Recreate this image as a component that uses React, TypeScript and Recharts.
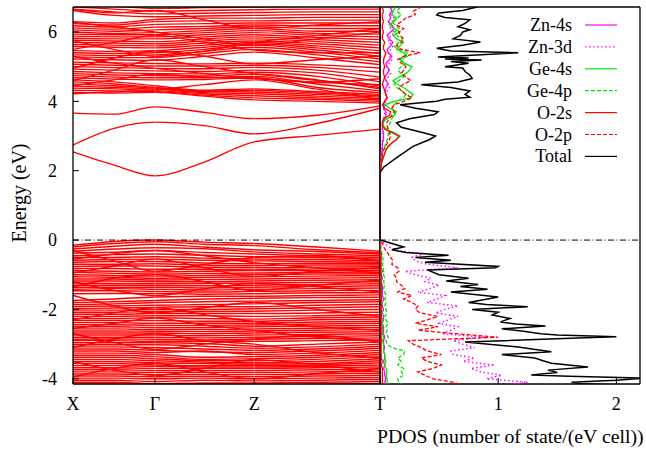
import React from "react";
import { LineChart, Line, XAxis, YAxis, ReferenceLine, ScatterChart, Scatter } from "recharts";

const FONT = '"Liberation Serif", "Times New Roman", serif';

// k-path X - Γ - Z - T, one midpoint on every segment
const kPath = [0, 0.134, 0.267, 0.428, 0.59, 0.795, 1];
const kTicks = [0, 0.267, 0.59, 1];
const kLabels = ["X", "Γ", "Z", "T"];

const energyTicks = [-4, -2, 0, 2, 4, 6];
const energyDomain = [-4.15, 6.72];
const pdosTicks = [1, 2];
const pdosDomain = [0, 2.2];

// band energies (eV) at each kPath point
const valenceBands = [
  [-0.15, -0.04, 0.0, -0.06, -0.1, -0.2, -0.32],
  [-0.2, -0.1, -0.05, -0.12, -0.16, -0.28, -0.36],
  [-0.26, -0.18, -0.12, -0.2, -0.28, -0.33, -0.4],
  [-0.32, -0.26, -0.22, -0.25, -0.34, -0.4, -0.45],
  [-0.38, -0.35, -0.3, -0.36, -0.4, -0.46, -0.5],
  [-0.45, -0.42, -0.4, -0.44, -0.48, -0.5, -0.55],
  [-0.5, -0.5, -0.48, -0.52, -0.55, -0.56, -0.6],
  [-0.58, -0.56, -0.55, -0.58, -0.6, -0.62, -0.64],
  [-0.64, -0.62, -0.62, -0.66, -0.68, -0.67, -0.68],
  [-0.7, -0.7, -0.68, -0.72, -0.74, -0.72, -0.72],
  [-0.76, -0.75, -0.75, -0.78, -0.8, -0.78, -0.77],
  [-0.82, -0.82, -0.84, -0.84, -0.86, -0.83, -0.82],
  [-0.88, -0.9, -0.92, -0.9, -0.88, -0.88, -0.87],
  [-0.93, -0.96, -0.98, -0.96, -0.95, -0.93, -0.92],
  [-1.0, -1.02, -1.04, -1.02, -1.0, -0.98, -0.97],
  [-1.06, -1.07, -1.1, -1.08, -1.06, -1.04, -1.02],
  [-1.12, -1.12, -1.15, -1.14, -1.12, -1.1, -1.08],
  [-1.18, -1.18, -1.2, -1.2, -1.18, -1.16, -1.14],
  [-1.24, -1.25, -1.26, -1.25, -1.24, -1.22, -1.2],
  [-1.3, -1.3, -1.31, -1.32, -1.3, -1.28, -1.26],
  [-1.36, -1.36, -1.36, -1.38, -1.36, -1.34, -1.32],
  [-1.42, -1.4, -1.42, -1.44, -1.42, -1.4, -1.38],
  [-1.46, -1.46, -1.48, -1.5, -1.48, -1.46, -1.45],
  [-1.55, -1.54, -1.54, -1.56, -1.55, -1.52, -1.52],
  [-1.74, -1.7, -1.64, -1.62, -1.62, -1.6, -1.58],
  [-1.8, -1.78, -1.74, -1.7, -1.68, -1.66, -1.65],
  [-1.86, -1.84, -1.8, -1.78, -1.76, -1.74, -1.72],
  [-1.92, -1.9, -1.88, -1.86, -1.84, -1.8, -1.78],
  [-1.98, -1.96, -1.94, -1.92, -1.92, -1.88, -1.85],
  [-2.02, -2.02, -2.0, -2.0, -1.98, -1.95, -1.92],
  [-2.08, -2.08, -2.06, -2.06, -2.05, -2.02, -2.0],
  [-2.14, -2.14, -2.12, -2.12, -2.12, -2.1, -2.08],
  [-2.2, -2.2, -2.18, -2.18, -2.2, -2.18, -2.15],
  [-2.26, -2.26, -2.24, -2.26, -2.28, -2.24, -2.22],
  [-2.32, -2.32, -2.32, -2.34, -2.34, -2.3, -2.28],
  [-2.38, -2.38, -2.4, -2.4, -2.4, -2.36, -2.34],
  [-2.44, -2.44, -2.46, -2.46, -2.45, -2.42, -2.4],
  [-2.5, -2.5, -2.52, -2.52, -2.5, -2.48, -2.46],
  [-2.56, -2.56, -2.58, -2.58, -2.56, -2.54, -2.52],
  [-2.62, -2.62, -2.63, -2.64, -2.62, -2.6, -2.58],
  [-2.68, -2.68, -2.68, -2.7, -2.68, -2.66, -2.64],
  [-2.74, -2.74, -2.74, -2.76, -2.74, -2.72, -2.7],
  [-2.8, -2.8, -2.8, -2.82, -2.8, -2.78, -2.76],
  [-2.86, -2.85, -2.86, -2.88, -2.86, -2.84, -2.82],
  [-2.9, -2.9, -2.92, -2.92, -2.92, -2.9, -2.88],
  [-2.96, -2.96, -2.96, -2.98, -3.06, -3.0, -2.94],
  [-3.02, -3.02, -3.02, -3.06, -3.12, -3.08, -3.0],
  [-3.08, -3.08, -3.1, -3.14, -3.18, -3.14, -3.06],
  [-3.14, -3.14, -3.18, -3.22, -3.24, -3.2, -3.12],
  [-3.2, -3.2, -3.24, -3.2, -3.3, -3.26, -3.18],
  [-3.26, -3.26, -3.3, -3.38, -3.36, -3.32, -3.24],
  [-3.32, -3.32, -3.36, -3.44, -3.42, -3.38, -3.3],
  [-3.38, -3.38, -3.42, -3.48, -3.48, -3.44, -3.36],
  [-3.44, -3.44, -3.48, -3.52, -3.54, -3.5, -3.42],
  [-3.5, -3.5, -3.54, -3.56, -3.58, -3.56, -3.48],
  [-3.56, -3.56, -3.6, -3.62, -3.62, -3.6, -3.54],
  [-3.62, -3.62, -3.64, -3.66, -3.66, -3.64, -3.6],
  [-3.68, -3.68, -3.7, -3.7, -3.7, -3.68, -3.66],
  [-3.74, -3.74, -3.76, -3.76, -3.76, -3.74, -3.72],
  [-3.8, -3.8, -3.82, -3.82, -3.82, -3.8, -3.78],
  [-3.86, -3.86, -3.88, -3.88, -3.88, -3.86, -3.84],
  [-3.92, -3.92, -3.94, -3.93, -3.94, -3.92, -3.9],
  [-3.98, -3.98, -4.0, -3.98, -4.0, -3.98, -3.96],
  [-4.04, -4.04, -4.08, -4.04, -4.06, -4.04, -4.02],
  [-4.1, -4.1, -4.14, -4.12, -4.12, -4.1, -4.08],
  [-4.16, -4.16, -4.2, -4.18, -4.18, -4.16, -4.14],
  // strongly dispersive bands crossing the manifold
  [-0.3, -0.6, -0.9, -0.7, -0.5, -0.45, -0.6],
  [-0.95, -0.75, -0.55, -0.8, -1.05, -0.9, -0.8],
  [-1.2, -1.45, -1.6, -1.4, -1.25, -1.35, -1.5],
  [-1.6, -1.9, -2.1, -1.95, -1.8, -2.0, -2.2],
  [-2.3, -2.1, -1.95, -2.15, -2.35, -2.5, -2.6],
  [-2.7, -2.95, -3.15, -3.0, -2.85, -2.75, -2.95],
  [-3.1, -2.85, -2.7, -2.9, -3.0, -3.25, -3.4],
  [-3.5, -3.75, -3.9, -3.7, -3.45, -3.6, -3.8],
  [-3.95, -3.7, -3.55, -3.8, -4.0, -3.85, -3.7],
  [-0.55, -0.4, -0.3, -0.45, -0.65, -0.8, -0.95],
  [-1.35, -1.1, -1.0, -1.2, -1.45, -1.3, -1.15],
  [-2.55, -2.4, -2.25, -2.45, -2.6, -2.8, -2.9],
];

const conductionBands = [
  [2.54, 2.16, 1.85, 2.25, 2.83, 3.02, 3.2],
  [2.74, 3.22, 3.4, 3.3, 3.06, 3.36, 3.8],
  [3.66, 3.63, 3.84, 3.68, 3.5, 3.6, 3.87],
  [4.22, 4.28, 4.33, 4.48, 4.62, 4.35, 4.05],
  [4.26, 4.24, 4.26, 4.15, 4.04, 4.0, 3.95],
  [4.32, 4.3, 4.28, 4.18, 4.1, 4.06, 4.0],
  [4.38, 4.36, 4.31, 4.22, 4.16, 4.1, 4.04],
  [4.44, 4.4, 4.35, 4.25, 4.22, 4.15, 4.08],
  [4.5, 4.45, 4.38, 4.28, 4.27, 4.2, 4.12],
  [4.56, 4.5, 4.4, 4.3, 4.32, 4.24, 4.16],
  [4.62, 4.56, 4.45, 4.32, 4.36, 4.28, 4.2],
  [4.68, 4.64, 4.62, 4.63, 4.68, 4.4, 4.25],
  [4.74, 4.7, 4.68, 4.68, 4.72, 4.5, 4.3],
  [4.8, 4.76, 4.74, 4.73, 4.78, 4.62, 4.36],
  [4.86, 4.82, 4.8, 4.79, 4.84, 4.72, 4.44],
  [4.93, 4.9, 4.88, 4.86, 4.9, 4.82, 4.56],
  [5.0, 4.97, 4.95, 4.94, 4.98, 4.9, 4.7],
  [5.07, 5.04, 5.02, 5.02, 5.04, 4.98, 4.84],
  [5.13, 5.11, 5.09, 5.08, 5.1, 5.05, 4.96],
  [5.22, 5.2, 5.18, 5.3, 5.42, 5.25, 5.06],
  [5.28, 5.26, 5.26, 5.38, 5.5, 5.34, 5.14],
  [5.34, 5.32, 5.34, 5.44, 5.56, 5.42, 5.22],
  [5.4, 5.38, 5.4, 5.5, 5.62, 5.48, 5.3],
  [5.46, 5.44, 5.46, 5.56, 5.66, 5.54, 5.38],
  [5.58, 5.56, 5.54, 5.62, 5.7, 5.6, 5.46],
  [5.64, 5.62, 5.6, 5.68, 5.74, 5.66, 5.54],
  [5.7, 5.68, 5.66, 5.74, 5.8, 5.72, 5.62],
  [5.76, 5.74, 5.72, 5.8, 5.86, 5.78, 5.7],
  [5.82, 5.8, 5.8, 5.86, 5.92, 5.84, 5.78],
  [5.88, 5.86, 5.86, 5.92, 5.98, 5.9, 5.86],
  [5.94, 5.92, 5.92, 5.98, 6.04, 5.96, 5.94],
  [6.0, 5.96, 5.98, 6.04, 6.1, 6.02, 6.02],
  [6.06, 6.02, 6.06, 6.1, 6.15, 6.1, 6.1],
  [6.12, 6.08, 6.14, 6.16, 6.2, 6.18, 6.18],
  [6.18, 6.14, 6.22, 6.24, 6.26, 6.26, 6.26],
  [6.24, 6.2, 6.3, 6.32, 6.32, 6.34, 6.34],
  [6.3, 6.26, 6.36, 6.4, 6.4, 6.42, 6.42],
  [6.62, 6.48, 6.44, 6.46, 6.48, 6.5, 6.5],
  [6.66, 6.58, 6.52, 6.54, 6.56, 6.58, 6.58],
  [6.72, 6.66, 6.6, 6.62, 6.64, 6.66, 6.66],
  [6.8, 6.74, 6.68, 6.7, 6.72, 6.74, 6.74],
  [4.6, 4.9, 5.2, 5.0, 4.8, 4.6, 4.4],
  [5.3, 5.1, 4.95, 4.8, 4.66, 4.55, 4.48],
  [5.5, 5.7, 5.9, 5.7, 5.48, 5.4, 5.4],
  [6.28, 6.15, 6.0, 5.8, 5.62, 5.8, 6.0],
  [4.95, 5.25, 5.45, 5.3, 5.08, 5.2, 5.3],
  [6.66, 6.55, 6.62, 6.35, 6.1, 6.2, 6.3],
  [5.75, 5.5, 5.3, 5.45, 5.7, 5.9, 6.1],
  [4.45, 4.62, 4.78, 4.7, 4.66, 4.55, 4.65],
];

// PDOS energy grids (eV): valence -4.2..0.0, conduction 1.9..6.7
const vbEnergy = [
  -4.2, -4.1, -4.0,
  -3.9, -3.8, -3.7, -3.6, -3.5, -3.4, -3.3, -3.2, -3.1, -3.0,
  -2.9, -2.8, -2.7, -2.6, -2.5, -2.4, -2.3, -2.2, -2.1, -2.0,
  -1.9, -1.8, -1.7, -1.6, -1.5, -1.4, -1.3, -1.2, -1.1, -1.0,
  -0.9, -0.8, -0.7, -0.6, -0.5, -0.4, -0.3, -0.2, -0.1, 0.0,
];
const cbEnergy = [
  1.9,
  2.0, 2.1, 2.2, 2.3, 2.4, 2.5, 2.6, 2.7, 2.8, 2.9,
  3.0, 3.1, 3.2, 3.3, 3.4, 3.5, 3.6, 3.7, 3.8, 3.9,
  4.0, 4.1, 4.2, 4.3, 4.4, 4.5, 4.6, 4.7, 4.8, 4.9,
  5.0, 5.1, 5.2, 5.3, 5.4, 5.5, 5.6, 5.7, 5.8, 5.9,
  6.0, 6.1, 6.2, 6.3, 6.4, 6.5, 6.6, 6.7,
];

const zn4sVb = [
  0.05, 0.04, 0.05,
  0.04, 0.04, 0.03, 0.04, 0.03, 0.04, 0.04, 0.03, 0.04, 0.03,
  0.03, 0.04, 0.03, 0.03, 0.03, 0.02, 0.03, 0.03, 0.02, 0.03,
  0.02, 0.02, 0.03, 0.02, 0.02, 0.02, 0.02, 0.01, 0.02, 0.01,
  0.02, 0.01, 0.01, 0.01, 0.01, 0.01, 0.005, 0.0, 0.0, 0.0,
];
const zn4sCb = [
  0.0,
  0.0, 0.0, 0.01, 0.01, 0.01, 0.01, 0.02, 0.02, 0.02, 0.03,
  0.03, 0.03, 0.02, 0.02, 0.03, 0.04, 0.05, 0.05, 0.03, 0.03,
  0.04, 0.06, 0.05, 0.04, 0.05, 0.07, 0.05, 0.04, 0.06, 0.08,
  0.06, 0.05, 0.08, 0.1, 0.07, 0.06, 0.09, 0.11, 0.08, 0.06,
  0.09, 0.12, 0.1, 0.07, 0.09, 0.08, 0.1, 0.09,
];

const zn3dVb = [
  1.0, 1.25, 0.9,
  1.03, 0.85, 0.77, 0.97, 0.7, 0.8, 0.62, 0.6, 0.8, 0.7,
  0.62, 0.89, 0.52, 0.6, 0.66, 0.5, 0.58, 0.66, 0.47, 0.55,
  0.66, 0.4, 0.48, 0.55, 0.32, 0.42, 0.5, 0.38, 0.43, 0.3,
  0.21, 0.66, 0.4, 0.3, 0.27, 0.36, 0.15, 0.08, 0.04, 0.0,
];
const zn3dCb = [
  0.0,
  0.0, 0.0, 0.0, 0.01, 0.01, 0.01, 0.01, 0.02, 0.02, 0.02,
  0.03, 0.02, 0.02, 0.02, 0.03, 0.03, 0.04, 0.04, 0.03, 0.04,
  0.05, 0.06, 0.05, 0.06, 0.08, 0.06, 0.05, 0.07, 0.09, 0.07,
  0.06, 0.08, 0.1, 0.08, 0.07, 0.09, 0.11, 0.08, 0.07, 0.1,
  0.12, 0.09, 0.08, 0.1, 0.12, 0.09, 0.11, 0.1,
];

const ge4sVb = [
  0.07, 0.06, 0.06,
  0.05, 0.06, 0.05, 0.04, 0.05, 0.04, 0.04, 0.03, 0.03, 0.03,
  0.02, 0.03, 0.02, 0.02, 0.02, 0.02, 0.02, 0.01, 0.02, 0.01,
  0.01, 0.02, 0.01, 0.01, 0.01, 0.01, 0.01, 0.01, 0.01, 0.01,
  0.01, 0.01, 0.01, 0.005, 0.005, 0.005, 0.0, 0.0, 0.0, 0.0,
];
const ge4sCb = [
  0.0,
  0.0, 0.01, 0.01, 0.02, 0.03, 0.04, 0.05, 0.07, 0.1, 0.14,
  0.17, 0.12, 0.05, 0.03, 0.02, 0.06, 0.12, 0.14, 0.08, 0.04,
  0.12, 0.26, 0.28, 0.24, 0.2, 0.14, 0.11, 0.16, 0.22, 0.25,
  0.27, 0.2, 0.17, 0.23, 0.2, 0.14, 0.17, 0.2, 0.14, 0.11,
  0.17, 0.12, 0.08, 0.12, 0.14, 0.1, 0.11, 0.13,
];

const ge4pVb = [
  0.2, 0.16, 0.15,
  0.2, 0.18, 0.2, 0.15, 0.18, 0.15, 0.2, 0.21, 0.1, 0.06,
  0.05, 0.07, 0.05, 0.06, 0.05, 0.07, 0.05, 0.04, 0.06, 0.05,
  0.04, 0.05, 0.04, 0.05, 0.04, 0.03, 0.04, 0.03, 0.04, 0.03,
  0.03, 0.03, 0.02, 0.03, 0.02, 0.02, 0.01, 0.01, 0.005, 0.0,
];
const ge4pCb = [
  0.0,
  0.0, 0.0, 0.01, 0.01, 0.02, 0.02, 0.03, 0.04, 0.05, 0.06,
  0.07, 0.07, 0.06, 0.07, 0.09, 0.1, 0.12, 0.13, 0.1, 0.12,
  0.15, 0.2, 0.22, 0.19, 0.14, 0.12, 0.16, 0.2, 0.18, 0.15,
  0.18, 0.22, 0.16, 0.2, 0.24, 0.15, 0.12, 0.16, 0.19, 0.14,
  0.12, 0.16, 0.13, 0.1, 0.15, 0.18, 0.14, 0.17,
];

const o2sVb = [
  0.02, 0.02, 0.02,
  0.02, 0.02, 0.02, 0.01, 0.02, 0.01, 0.01, 0.01, 0.01, 0.01,
  0.01, 0.01, 0.01, 0.01, 0.01, 0.01, 0.01, 0.01, 0.01, 0.01,
  0.01, 0.01, 0.01, 0.01, 0.01, 0.01, 0.01, 0.01, 0.01, 0.01,
  0.005, 0.005, 0.005, 0.005, 0.005, 0.005, 0.0, 0.0, 0.0, 0.0,
];
const o2sCb = [
  0.0,
  0.0, 0.01, 0.01, 0.02, 0.03, 0.04, 0.05, 0.07, 0.1, 0.14,
  0.16, 0.1, 0.04, 0.02, 0.02, 0.03, 0.08, 0.09, 0.04, 0.02,
  0.04, 0.06, 0.05, 0.04, 0.03, 0.02, 0.03, 0.04, 0.03, 0.03,
  0.04, 0.03, 0.03, 0.04, 0.05, 0.03, 0.03, 0.04, 0.02, 0.02,
  0.03, 0.02, 0.02, 0.03, 0.02, 0.02, 0.03, 0.02,
];

const o2pVb = [
  0.72, 0.62, 0.45,
  0.38, 0.32, 0.45, 0.52, 0.4, 0.35, 0.52, 0.4, 0.35, 0.28,
  0.24, 1.0, 0.64, 0.32, 0.49, 0.3, 0.4, 0.49, 0.34, 0.3,
  0.32, 0.27, 0.2, 0.27, 0.15, 0.21, 0.18, 0.14, 0.14, 0.12,
  0.16, 0.15, 0.1, 0.11, 0.09, 0.07, 0.05, 0.03, 0.02, 0.0,
];
const o2pCb = [
  0.0,
  0.0, 0.0, 0.01, 0.01, 0.02, 0.02, 0.03, 0.05, 0.06, 0.08,
  0.09, 0.08, 0.07, 0.06, 0.06, 0.08, 0.1, 0.12, 0.1, 0.12,
  0.2, 0.27, 0.22, 0.18, 0.16, 0.2, 0.26, 0.22, 0.18, 0.2,
  0.22, 0.18, 0.15, 0.2, 0.34, 0.18, 0.14, 0.18, 0.2, 0.17,
  0.16, 0.2, 0.14, 0.18, 0.22, 0.3, 0.28, 0.34,
];

// total DOS, sampled at its own turning points
const totalEnergy = [
  -4.25, -4.18, -4.14, -4.1, -4.04, -3.98, -3.93, -3.89, -3.82, -3.75,
  -3.66, -3.55, -3.48, -3.4, -3.3, -3.22, -3.15, -3.08, -2.94, -2.84,
  -2.79, -2.74, -2.7, -2.62, -2.56, -2.48, -2.42, -2.36, -2.26, -2.16,
  -2.08, -2.0, -1.92, -1.86, -1.8, -1.64, -1.5, -1.42, -1.34, -1.28,
  -1.18, -1.1, -1.0, -0.86, -0.8, -0.76, -0.64, -0.58, -0.5, -0.44,
  -0.36, -0.28, -0.2, -0.08, 0.0, 0.1,
  1.9, 1.95, 2.1, 2.4, 2.7, 2.9, 3.0, 3.1, 3.25, 3.38,
  3.5, 3.62, 3.7, 3.8, 3.9, 4.0, 4.06, 4.12, 4.2, 4.3,
  4.4, 4.48, 4.56, 4.66, 4.76, 4.86, 4.96, 5.0, 5.05, 5.1,
  5.15, 5.19, 5.22, 5.25, 5.28, 5.4, 5.45, 5.53, 5.62, 5.71,
  5.8, 5.9, 6.0, 6.06, 6.15, 6.25, 6.35, 6.42, 6.49, 6.55,
  6.62, 6.72, 6.8,
];
const totalDos = [
  1.9, 2.1, 1.7, 1.62, 2.0, 2.25, 1.6, 1.28, 1.5, 1.42,
  1.76, 1.45, 1.38, 1.31, 1.03, 1.45, 1.3, 1.17, 0.72, 1.55,
  2.0, 1.5, 1.36, 1.2, 1.03, 1.4, 1.15, 1.02, 1.1, 0.95,
  1.0, 0.78, 1.25, 0.9, 0.75, 1.0, 0.6, 0.91, 0.68, 0.83,
  0.56, 0.75, 0.5, 0.4, 0.98, 1.0, 0.38, 0.6, 0.3, 0.58,
  0.22, 0.1, 0.2, 0.08, 0.0, 0.0,
  0.0, 0.0, 0.03, 0.15, 0.28, 0.42, 0.47, 0.36, 0.18, 0.14,
  0.25, 0.46, 0.49, 0.3, 0.17, 0.48, 0.55, 0.76, 0.72, 0.76,
  0.6, 0.35, 0.66, 0.78, 0.76, 0.72, 0.7, 0.55, 0.65, 0.75,
  0.6, 0.86, 0.55, 0.75, 0.49, 1.17, 0.6, 0.48, 0.7, 0.85,
  0.62, 0.68, 0.7, 0.76, 0.66, 0.72, 0.76, 0.55, 0.48, 0.5,
  0.7, 0.82, 0.85,
];

const bandData = kPath.map((k, i) => {
  const row: Record<string, number> = { k };
  valenceBands.forEach((b, j) => (row[`v${j}`] = b[i]));
  conductionBands.forEach((b, j) => (row[`c${j}`] = b[i]));
  return row;
});

const toCurve = (vb: number[], cb: number[]) => [
  ...vbEnergy.map((e, i) => ({ x: vb[i], y: e })),
  ...cbEnergy.map((e, i) => ({ x: cb[i], y: e })),
].filter((p) => p.x !== undefined);

const pdosSeries = [
  { name: "Zn-4s", color: "#ff00ff", dash: undefined, width: 1.3, points: toCurve(zn4sVb, zn4sCb) },
  { name: "Zn-3d", color: "#ff00ff", dash: "1.5 2.5", width: 1.4, points: toCurve(zn3dVb, zn3dCb) },
  { name: "Ge-4s", color: "#00e600", dash: undefined, width: 1.3, points: toCurve(ge4sVb, ge4sCb) },
  { name: "Ge-4p", color: "#00e600", dash: "4 2", width: 1.3, points: toCurve(ge4pVb, ge4pCb) },
  { name: "O-2s", color: "#ff0000", dash: undefined, width: 1.3, points: toCurve(o2sVb, o2sCb) },
  { name: "O-2p", color: "#ff0000", dash: "4 2", width: 1.3, points: toCurve(o2pVb, o2pCb) },
  {
    name: "Total",
    color: "#000000",
    dash: undefined,
    width: 1.5,
    points: totalEnergy.map((e, i) => ({ x: totalDos[i], y: e })),
  },
];

const tickStyle = { fill: "#000", fontSize: 18, fontFamily: FONT };
const axisLineStyle = { stroke: "#000", strokeWidth: 1.3 };
const zeroLine = { stroke: "#000", strokeWidth: 1, strokeDasharray: "6 2.5 1 2.5" };
const noDot = () => <g />;

export default function App() {
  return (
    <div style={{ position: "absolute", left: 0, top: 0, width: 646, height: 450, background: "#fff" }}>
      <div style={{ position: "absolute", left: 0, top: 0 }}>
        <LineChart
          width={646}
          height={450}
          data={bandData}
          margin={{ top: 0, right: 266, bottom: 36, left: 33 }}
        >
          <XAxis
            type="number"
            dataKey="k"
            domain={[0, 1]}
            ticks={kTicks}
            interval={0}
            tickFormatter={(v: number) => kLabels[kTicks.indexOf(v)] ?? ""}
            height={30}
            tickSize={-6}
            tickMargin={19}
            tick={tickStyle}
            axisLine={axisLineStyle}
            tickLine={{ stroke: "#000" }}
          />
          <XAxis
            xAxisId="top"
            orientation="top"
            type="number"
            dataKey="k"
            domain={[0, 1]}
            ticks={kTicks}
            interval={0}
            tick={false}
            height={7}
            tickSize={-6}
            axisLine={axisLineStyle}
            tickLine={{ stroke: "#000" }}
          />
          <YAxis
            type="number"
            domain={energyDomain}
            ticks={energyTicks}
            interval={0}
            allowDataOverflow
            width={40}
            tickSize={-6}
            tickMargin={22}
            tick={tickStyle}
            axisLine={axisLineStyle}
            tickLine={{ stroke: "#000" }}
          />
          {valenceBands.map((_, j) => (
            <Line
              key={`v${j}`}
              dataKey={`v${j}`}
              type="monotone"
              stroke="#ff0000"
              strokeWidth={1.45}
              dot={false}
              activeDot={false}
              isAnimationActive={false}
            />
          ))}
          {conductionBands.map((_, j) => (
            <Line
              key={`c${j}`}
              dataKey={`c${j}`}
              type="monotone"
              stroke="#ff0000"
              strokeWidth={1.35}
              dot={false}
              activeDot={false}
              isAnimationActive={false}
            />
          ))}
          <ReferenceLine x={kTicks[1]} stroke="#fff" strokeOpacity={0.3} />
          <ReferenceLine x={kTicks[2]} stroke="#fff" strokeOpacity={0.3} />
          <ReferenceLine y={0} {...zeroLine} />
          <ReferenceLine x={1} stroke="#000" strokeWidth={1.3} />
        </LineChart>
      </div>

      <div style={{ position: "absolute", left: 0, top: 0 }}>
        <ScatterChart width={646} height={450} margin={{ top: 0, right: 6, bottom: 36, left: 340 }}>
          <XAxis
            type="number"
            dataKey="x"
            domain={pdosDomain}
            ticks={pdosTicks}
            interval={0}
            allowDataOverflow
            height={30}
            tickSize={-6}
            tickMargin={19}
            tick={tickStyle}
            axisLine={axisLineStyle}
            tickLine={{ stroke: "#000" }}
          />
          <XAxis
            xAxisId="top"
            orientation="top"
            type="number"
            dataKey="x"
            domain={pdosDomain}
            ticks={pdosTicks}
            interval={0}
            tick={false}
            height={7}
            tickSize={-6}
            axisLine={axisLineStyle}
            tickLine={{ stroke: "#000" }}
          />
          <YAxis
            type="number"
            dataKey="y"
            domain={energyDomain}
            ticks={energyTicks}
            interval={0}
            allowDataOverflow
            width={40}
            tick={false}
            tickSize={-6}
            axisLine={axisLineStyle}
            tickLine={{ stroke: "#000" }}
          />
          <ReferenceLine y={0} {...zeroLine} />
          {pdosSeries.map((s) => (
            <Scatter
              key={s.name}
              name={s.name}
              data={s.points}
              fill={s.color}
              line={{ stroke: s.color, strokeWidth: s.width, strokeDasharray: s.dash }}
              lineType="joint"
              shape={noDot}
              isAnimationActive={false}
            />
          ))}
          <ReferenceLine x={2.2} stroke="#000" strokeWidth={1.3} />
        </ScatterChart>
      </div>

      <svg width={646} height={450} style={{ position: "absolute", left: 0, top: 0, pointerEvents: "none" }}>
        <text
          transform="translate(26,193) rotate(-90)"
          textAnchor="middle"
          fontFamily={FONT}
          fontSize={20}
          fill="#000"
        >
          Energy (eV)
        </text>
        <text x={377} y={443} fontFamily={FONT} fontSize={19.8} fill="#000">
          PDOS (number of state/(eV cell))
        </text>
        {pdosSeries.map((s, i) => {
          const y = 25 + i * 21.9;
          return (
            <g key={s.name}>
              <text x={572} y={y + 6} textAnchor="end" fontFamily={FONT} fontSize={18} fill="#000">
                {s.name}
              </text>
              <line x1={585} x2={617} y1={y} y2={y} stroke={s.color} strokeWidth={1.2} strokeDasharray={s.dash} />
            </g>
          );
        })}
      </svg>
    </div>
  );
}
